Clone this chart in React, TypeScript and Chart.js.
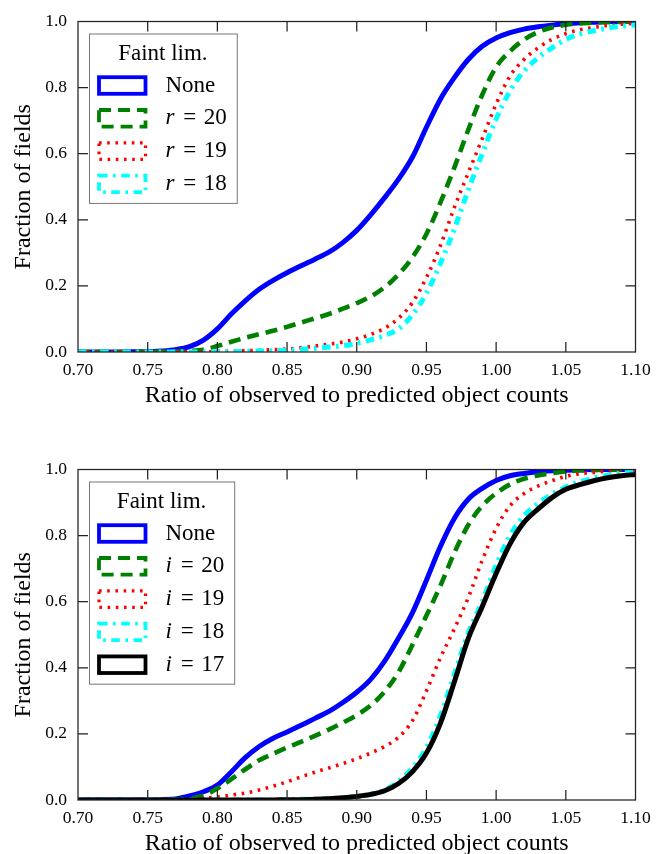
import React, { useEffect, useRef } from 'react';
import { Chart, registerables } from 'chart.js';

Chart.register(...registerables);

// ---------- data ----------
const RATIO = [
  0.70, 0.71, 0.72, 0.73, 0.74, 0.75, 0.76, 0.77, 0.78, 0.79,
  0.80, 0.81, 0.82, 0.83, 0.84, 0.85, 0.86, 0.87, 0.88, 0.89,
  0.90, 0.91, 0.92, 0.93, 0.94, 0.95, 0.96, 0.97, 0.98, 0.99,
  1.00, 1.01, 1.02, 1.03, 1.04, 1.05, 1.06, 1.07, 1.08, 1.09, 1.10,
];

const X_TICKS = [0.70, 0.75, 0.80, 0.85, 0.90, 0.95, 1.00, 1.05, 1.10];
const X_TICK_LABELS = ['0.70', '0.75', '0.80', '0.85', '0.90', '0.95', '1.00', '1.05', '1.10'];
const Y_TICKS = [0, 0.2, 0.4, 0.6, 0.8, 1.0];
const Y_TICK_LABELS = ['0.0', '0.2', '0.4', '0.6', '0.8', '1.0'];

const X_TITLE = 'Ratio of observed to predicted object counts';
const Y_TITLE = 'Fraction of fields';
const LEGEND_TITLE = 'Faint lim.';

// top panel (r band)
const TOP_LABELS = ['None', 'r = 20', 'r = 19', 'r = 18'];
const TOP_NONE = [
  0, 0, 0, 0, 0.001, 0.001, 0.003, 0.007, 0.016, 0.036,
  0.07, 0.115, 0.155, 0.19, 0.217, 0.24, 0.261, 0.281, 0.302, 0.331,
  0.368, 0.415, 0.467, 0.523, 0.59, 0.68, 0.765, 0.83, 0.885, 0.925,
  0.95, 0.966, 0.977, 0.984, 0.989, 0.993, 0.996, 0.998, 1, 1, 1,
];
const TOP_R20 = [
  0, 0, 0, 0, 0, 0, 0.001, 0.001, 0.003, 0.007,
  0.018, 0.031, 0.043, 0.054, 0.064, 0.076, 0.089, 0.102, 0.115, 0.131,
  0.148, 0.168, 0.196, 0.235, 0.287, 0.357, 0.452, 0.558, 0.672, 0.778,
  0.862, 0.91, 0.945, 0.968, 0.982, 0.99, 0.994, 0.997, 0.998, 0.999, 1,
];
const TOP_R19 = [
  0, 0, 0, 0, 0, 0, 0, 0, 0.001, 0.001,
  0.002, 0.003, 0.004, 0.005, 0.007, 0.009, 0.013, 0.018, 0.024, 0.03,
  0.04, 0.053, 0.072, 0.102, 0.15, 0.225, 0.322, 0.437, 0.542, 0.645,
  0.75, 0.835, 0.885, 0.92, 0.946, 0.963, 0.975, 0.982, 0.988, 0.992, 0.995,
];
const TOP_R18 = [
  0, 0, 0, 0, 0, 0, 0, 0, 0, 0,
  0.001, 0.001, 0.002, 0.003, 0.004, 0.005, 0.008, 0.011, 0.015, 0.019,
  0.026, 0.037, 0.05, 0.07, 0.113, 0.178, 0.268, 0.372, 0.49, 0.6,
  0.705, 0.79, 0.85, 0.89, 0.92, 0.946, 0.962, 0.972, 0.98, 0.986, 0.99,
];

// bottom panel (i band)
const BOT_LABELS = ['None', 'i = 20', 'i = 19', 'i = 18', 'i = 17'];
const BOT_NONE = [
  0, 0, 0, 0, 0, 0, 0.001, 0.003, 0.012, 0.025,
  0.045, 0.085, 0.128, 0.162, 0.187, 0.206, 0.226, 0.247, 0.268, 0.295,
  0.326, 0.365, 0.42, 0.49, 0.567, 0.665, 0.767, 0.852, 0.91, 0.943,
  0.967, 0.981, 0.988, 0.993, 0.996, 0.998, 0.999, 1, 1, 1, 1,
];
const BOT_I20 = [
  0, 0, 0, 0, 0, 0, 0, 0.001, 0.004, 0.013,
  0.035, 0.063, 0.093, 0.12, 0.14, 0.159, 0.176, 0.194, 0.213, 0.234,
  0.257, 0.286, 0.328, 0.387, 0.47, 0.558, 0.648, 0.748, 0.832, 0.89,
  0.928, 0.955, 0.972, 0.982, 0.989, 0.994, 0.997, 0.998, 0.999, 1, 1,
];
const BOT_I19 = [
  0, 0, 0, 0, 0, 0, 0, 0, 0.002, 0.005,
  0.009, 0.015, 0.021, 0.03, 0.042, 0.055, 0.07, 0.084, 0.097, 0.11,
  0.125, 0.142, 0.162, 0.19, 0.24, 0.33, 0.43, 0.518, 0.612, 0.725,
  0.822, 0.89, 0.927, 0.95, 0.966, 0.979, 0.987, 0.991, 0.995, 0.997, 0.998,
];
const BOT_I18 = [
  0, 0, 0, 0, 0, 0, 0, 0, 0, 0,
  0, 0, 0, 0, 0, 0.001, 0.002, 0.003, 0.004, 0.006,
  0.01, 0.017, 0.03, 0.056, 0.097, 0.158, 0.255, 0.38, 0.505, 0.6,
  0.71, 0.8, 0.86, 0.897, 0.925, 0.947, 0.963, 0.974, 0.983, 0.989, 0.993,
];
const BOT_I17 = [
  0, 0, 0, 0, 0, 0, 0, 0, 0, 0,
  0, 0, 0, 0, 0, 0.001, 0.001, 0.002, 0.004, 0.007,
  0.011, 0.017, 0.028, 0.05, 0.086, 0.142, 0.232, 0.357, 0.488, 0.585,
  0.685, 0.775, 0.84, 0.88, 0.915, 0.94, 0.954, 0.966, 0.975, 0.981, 0.985,
];

// ---------- styles ----------
const FONT = "'Liberation Serif', 'Times New Roman', serif";
const STYLES = [
  { color: '#0000ff', width: 5, dash: [] as number[], legendWidth: 3.8 },
  { color: '#008000', width: 4.6, dash: [12, 7], legendWidth: 3.8 },
  { color: '#ff0000', width: 3.6, dash: [2.6, 5.6], legendWidth: 3.2 },
  { color: '#00ffff', width: 5, dash: [8.5, 5.5, 2.6, 5.6], legendWidth: 3.8 },
  { color: '#000000', width: 5, dash: [] as number[], legendWidth: 3.8 },
];

const frameTicksPlugin = {
  id: 'frameTicks',
  afterDatasetsDraw(chart: any) {
    const { ctx, chartArea } = chart;
    const { left, right, top, bottom } = chartArea;
    const xs = chart.scales.x;
    const ys = chart.scales.y;
    const L = 10;
    ctx.save();
    ctx.strokeStyle = '#222';
    ctx.lineWidth = 1.25;
    ctx.setLineDash([]);
    ctx.beginPath();
    X_TICKS.forEach((v) => {
      const px = xs.getPixelForValue(v);
      if (px <= left + 1 || px >= right - 1) return;
      ctx.moveTo(px, bottom);
      ctx.lineTo(px, bottom - L);
      ctx.moveTo(px, top);
      ctx.lineTo(px, top + L);
    });
    Y_TICKS.forEach((v) => {
      const py = ys.getPixelForValue(v);
      if (py <= top + 1 || py >= bottom - 1) return;
      ctx.moveTo(left, py);
      ctx.lineTo(left + L, py);
      ctx.moveTo(right, py);
      ctx.lineTo(right - L, py);
    });
    ctx.stroke();
    ctx.strokeRect(left, top, right - left, bottom - top);
    ctx.restore();
  },
};

function makeLegendPlugin(title: string, labels: string[]) {
  return {
    id: 'faintLegend',
    afterDraw(chart: any) {
      const { ctx, chartArea } = chart;
      const left = chartArea.left + 11;
      const top = chartArea.top + 12;
      const rowH = 32.8;
      const textX = left + 76.5;
      const normal = `23px ${FONT}`;
      const italic = `italic 23px ${FONT}`;
      ctx.save();
      const parsed = labels.map((lab) => {
        const m = /^([a-z]) = (.+)$/.exec(lab);
        if (!m) {
          ctx.font = normal;
          return { plain: lab, width: ctx.measureText(lab).width };
        }
        ctx.font = italic;
        const wv = ctx.measureText(m[1]).width;
        ctx.font = normal;
        const wn = ctx.measureText(m[2]).width;
        const eqStart = wv + 7;
        const numStart = eqStart + 16.6 + 5.7;
        return { v: m[1], n: m[2], eqStart, numStart, width: numStart + wn };
      });
      const maxW = Math.max(...parsed.map((p) => p.width));
      const boxW = textX - left + maxW + 10;
      const boxH = 52 + (labels.length - 1) * rowH + 19;
      ctx.fillStyle = '#ffffff';
      ctx.fillRect(left, top, boxW, boxH);
      ctx.strokeStyle = '#777777';
      ctx.lineWidth = 1;
      ctx.strokeRect(left + 0.5, top + 0.5, boxW, boxH);

      ctx.fillStyle = '#000';
      ctx.textBaseline = 'middle';
      ctx.textAlign = 'center';
      ctx.font = normal;
      ctx.fillText(title, left + boxW / 2, top + 20);

      labels.forEach((_, i) => {
        const ds = chart.data.datasets[i];
        const cy = top + 52 + i * rowH;
        ctx.save();
        ctx.strokeStyle = ds.borderColor;
        ctx.lineWidth = ds.legendWidth;
        ctx.setLineDash(ds.borderDash || []);
        ctx.strokeRect(left + 10, cy - 8.3, 46.5, 16.6);
        ctx.restore();

        const p: any = parsed[i];
        ctx.fillStyle = '#000';
        ctx.textBaseline = 'middle';
        if (p.plain !== undefined) {
          ctx.textAlign = 'left';
          ctx.font = normal;
          ctx.fillText(p.plain, textX, cy);
        } else {
          ctx.textAlign = 'left';
          ctx.font = italic;
          ctx.fillText(p.v, textX, cy);
          ctx.font = normal;
          ctx.textAlign = 'center';
          ctx.fillText('=', textX + p.eqStart + 8.3, cy);
          ctx.textAlign = 'left';
          ctx.fillText(p.n, textX + p.numStart, cy);
        }
      });
      ctx.restore();
    },
  };
}

function makeConfig(series: number[][], labels: string[]): any {
  const datasets = series.map((vals, i) => {
    const st = STYLES[i];
    return {
      label: labels[i],
      data: RATIO.map((x, j) => ({ x, y: vals[j] })),
      borderColor: st.color,
      backgroundColor: st.color,
      borderWidth: st.width,
      borderDash: st.dash,
      legendWidth: st.legendWidth,
      borderCapStyle: 'butt',
      borderJoinStyle: 'round',
      pointRadius: 0,
      pointHoverRadius: 0,
      fill: false,
      cubicInterpolationMode: 'monotone',
      clip: 0,
      order: -i,
    };
  });
  return {
    type: 'line',
    data: { datasets },
    options: {
      responsive: false,
      maintainAspectRatio: false,
      animation: false,
      devicePixelRatio: 1,
      events: [],
      layout: { padding: { top: 18, right: 31.5, left: 0, bottom: 0 } },
      plugins: {
        legend: { display: false },
        tooltip: { enabled: false },
      },
      scales: {
        x: {
          type: 'linear',
          min: 0.7,
          max: 1.1,
          afterBuildTicks: (scale: any) => {
            scale.ticks = X_TICKS.map((v) => ({ value: v }));
          },
          afterFit: (scale: any) => {
            scale.height = 56;
          },
          grid: { display: false, drawTicks: false },
          border: { display: false },
          ticks: {
            autoSkip: false,
            maxRotation: 0,
            padding: 8,
            color: '#000',
            font: { family: FONT, size: 17.5 },
            callback: (_v: any, idx: number) => X_TICK_LABELS[idx],
          },
          title: {
            display: true,
            text: X_TITLE,
            color: '#000',
            font: { family: FONT, size: 24, lineHeight: 1 },
            padding: { top: 0, bottom: 0 },
          },
        },
        y: {
          type: 'linear',
          min: 0,
          max: 1,
          afterBuildTicks: (scale: any) => {
            scale.ticks = Y_TICKS.map((v) => ({ value: v }));
          },
          afterFit: (scale: any) => {
            scale.width = 78;
          },
          grid: { display: false, drawTicks: false },
          border: { display: false },
          ticks: {
            autoSkip: false,
            padding: 11,
            color: '#000',
            font: { family: FONT, size: 17.5 },
            callback: (_v: any, idx: number) => Y_TICK_LABELS[idx],
          },
          title: {
            display: true,
            text: Y_TITLE,
            color: '#000',
            font: { family: FONT, size: 24, lineHeight: 1 },
            padding: { top: 12, bottom: 0 },
          },
        },
      },
    },
    plugins: [frameTicksPlugin, makeLegendPlugin(LEGEND_TITLE, labels)],
  };
}

export default function App() {
  const topRef = useRef<HTMLCanvasElement>(null);
  const botRef = useRef<HTMLCanvasElement>(null);

  useEffect(() => {
    const c1 = new Chart(topRef.current as HTMLCanvasElement, makeConfig([TOP_NONE, TOP_R20, TOP_R19, TOP_R18], TOP_LABELS));
    const c2 = new Chart(
      botRef.current as HTMLCanvasElement,
      makeConfig([BOT_NONE, BOT_I20, BOT_I19, BOT_I18, BOT_I17], BOT_LABELS),
    );
    return () => {
      c1.destroy();
      c2.destroy();
    };
  }, []);

  return (
    <div style={{ position: 'absolute', left: 0, top: 0, width: 667, height: 854, background: '#fff', overflow: 'hidden' }}>
      <canvas ref={topRef} width={667} height={408} style={{ position: 'absolute', left: 0, top: 0, width: 667, height: 408 }} />
      <canvas ref={botRef} width={667} height={408} style={{ position: 'absolute', left: 0, top: 448, width: 667, height: 408 }} />
    </div>
  );
}
